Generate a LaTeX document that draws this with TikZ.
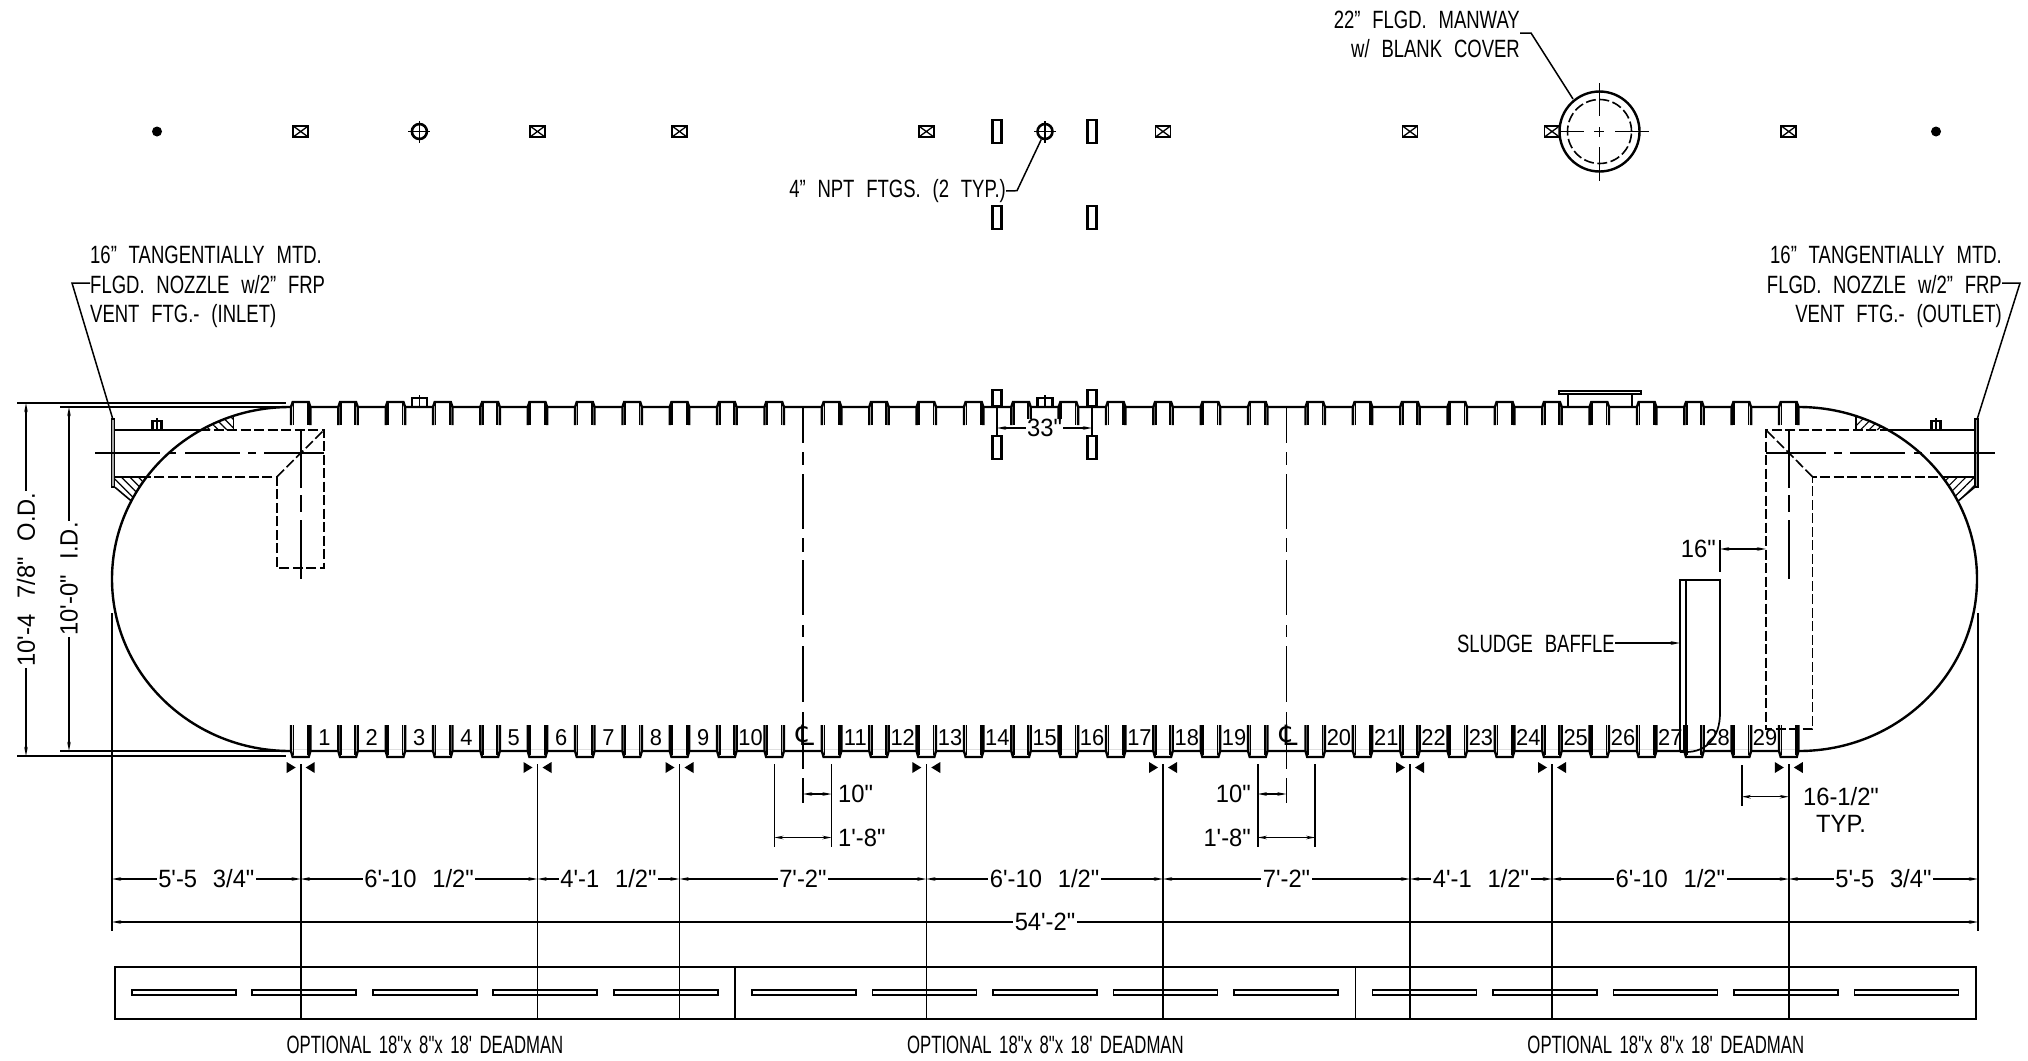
\documentclass[tikz,border=0pt]{standalone}
\usepackage{fontspec}
\setmainfont[FakeStretch=0.74,WordSpace=2.3]{Liberation Sans}
\newfontfamily\dimfont[FakeStretch=0.95,WordSpace=2.4]{Liberation Sans}
\newfontfamily\narrowfont[FakeStretch=0.67,WordSpace=1.6]{Liberation Sans}
\newfontfamily\clfont{DejaVu Sans}
\usetikzlibrary{arrows.meta,patterns.meta}

\tikzset{
  shell/.style={line width=2.4pt},
  ribline/.style={line width=1.7pt},
  thinline/.style={line width=1.6pt},
  hidden/.style={line width=1.6pt,dash pattern=on 10pt off 3.5pt},
  dimline/.style={line width=1.4pt,{Stealth[length=9pt,width=3.5pt]}-{Stealth[length=9pt,width=3.5pt]}},
  leaderline/.style={line width=1.5pt},
  notetext/.style={font=\fontsize{25}{29.5}\selectfont,inner sep=0pt},
  dimtext/.style={font=\dimfont\fontsize{25}{27}\selectfont,inner sep=0pt},
  dimlabel/.style={dimtext,fill=white,inner xsep=1.5pt,inner ysep=0pt},
  numtext/.style={font=\dimfont\fontsize{23}{25}\selectfont,inner sep=0pt},
  deadtext/.style={font=\narrowfont\fontsize{25}{28}\selectfont,inner sep=0pt},
  crossbox/.style={draw,rectangle,line width=1.7pt,minimum width=15pt,minimum height=11pt,inner sep=0pt,
    path picture={\draw[line width=1.3pt] (path picture bounding box.north west) -- (path picture bounding box.south east)
      (path picture bounding box.south west) -- (path picture bounding box.north east);}},
  ftgrect/.style={draw,rectangle,line width=2.2pt,minimum width=9pt,inner sep=0pt},
}

\begin{document}
\begin{tikzpicture}[x=1pt,y=-1pt]
  \useasboundingbox (0,0) rectangle (2028,1060);

  % fittings plan
  \node[circle,fill,inner sep=0pt,minimum size=10pt] (dotl) at (157,131.5) {};
  \node[circle,fill,inner sep=0pt,minimum size=10pt] (dotr) at (1936,131.5) {};
  \foreach \x in {300.7,537.5,679.5,926.3,1163,1410,1552,1788.8}
    \node[crossbox] (box\x) at (\x,131.5) {};
  \foreach \nm/\x in {a/419.4,b/1045} {
    \node[circle,draw,line width=2.6pt,minimum size=15pt,inner sep=0pt] (ftg\nm) at (\x,131.5) {};
    \draw[line width=1.6pt] ([xshift=-11pt]ftg\nm.center) -- ([xshift=11pt]ftg\nm.center);
    \draw[line width=1.6pt] ([yshift=-11pt]ftg\nm.center) -- ([yshift=11pt]ftg\nm.center);
  }
  \foreach \nm/\x/\y in {a/997/131.5,b/1092/131.5,c/997/217.5,d/1092/217.5}
    \node[ftgrect,minimum height=23pt] (rect\nm) at (\x,\y) {};

  % manway
  \node[circle,draw,shell,minimum size=80pt,inner sep=0pt] (manway) at (1599.5,131.5) {};
  \node[circle,draw,hidden,minimum size=64pt,inner sep=0pt] (manwayin) at (1599.5,131.5) {};
  \coordinate (mwl) at (1560,131.5);
  \coordinate (mwr) at (1649,131.5);
  \coordinate (mwt) at (1599.5,83);
  \coordinate (mwb) at (1599.5,181);
  \draw[thinline,dash pattern=on 24pt off 10pt on 10pt off 11pt on 34pt] (mwl) -- (mwr);
  \draw[thinline,dash pattern=on 33pt off 11pt on 10pt off 10pt on 34pt] (mwt) -- (mwb);

  \node[notetext,align=right,anchor=east] (manwaynote) at (1520,34.5) {22" FLGD. MANWAY\\w/ BLANK COVER};
  \coordinate (mwk) at (1531,33);
  \coordinate (mwe) at (1573,99);
  \draw[leaderline] (manwaynote.east |- mwk) -- (mwk) -- (mwe);

  \node[notetext,anchor=east] (ftgnote) at (1006,191) {4" NPT FTGS. (2 TYP.)};
  \coordinate (ftgk) at (1017,190.7);
  \draw[leaderline] (ftgnote.east) -- (ftgk) -- (ftgb);

  % nozzle notes
  \node[notetext,align=left,anchor=west] (inletnote) at (90,287) {16" TANGENTIALLY MTD.\\FLGD. NOZZLE w/2" FRP\\VENT FTG.- (INLET)};
  \node[notetext,align=right,anchor=east] (outletnote) at (2002,287) {16" TANGENTIALLY MTD.\\FLGD. NOZZLE w/2" FRP\\VENT FTG.- (OUTLET)};
  \coordinate (inletk) at (72,283);
  \coordinate (inlete) at (112.5,418);
  \coordinate (outletk) at (2020,283);
  \coordinate (outlete) at (1977.5,418);
  \draw[leaderline] (inletnote.west |- inletk) -- (inletk) -- (inlete);
  \draw[leaderline] (outletnote.east |- outletk) -- (outletk) -- (outlete);

  % tank shell
  \draw[shell] (290,407) -- (1799,407) arc[start angle=90,end angle=-90,x radius=178pt,y radius=172pt]
    -- (290,751) arc[start angle=270,end angle=90,x radius=178pt,y radius=172pt];

  \foreach \start/\last in {300.7/10,831.6/9,1315.2/10} {
    \foreach \i in {0,...,\last} {
      \pgfmathsetmacro\rx{\start+47.35*\i}
      \fill[white] (\rx-9.7,401) rectangle (\rx+9.7,408.5);
      \fill[white] (\rx-9.7,749.5) rectangle (\rx+9.7,758);
      \draw[shell] (\rx-9.7,425) -- (\rx-9.7,407) -- (\rx-8,402) -- (\rx+8,402) -- (\rx+9.7,407) -- (\rx+9.7,425);
      \draw[ribline] (\rx-7.2,403) -- (\rx-7.2,425) (\rx+7.2,403) -- (\rx+7.2,425);
      \draw[shell] (\rx-9.7,725) -- (\rx-9.7,751) -- (\rx-8,757) -- (\rx+8,757) -- (\rx+9.7,751) -- (\rx+9.7,725);
      \draw[ribline] (\rx-7.2,725) -- (\rx-7.2,755) (\rx+7.2,725) -- (\rx+7.2,755);
    }
  }

  \foreach \start/\first/\last in {324.4/1/10,855.3/11/19,1338.9/20/29} {
    \foreach \n in {\first,...,\last} {
      \pgfmathsetmacro\nx{\start+47.35*(\n-\first)}
      \node[numtext] (rib\n) at (\nx,737.5) {\n};
    }
  }

  % openings on top of shell
  \foreach \nm/\x in {c/419.4,d/1045} {
    \draw[shell] (\x-7.5,407) -- (\x-7.5,398) -- (\x+7.5,398) -- (\x+7.5,407);
    \draw[ribline] (\x,395) -- (\x,407);
  }
  \draw[shell] (1559,390.7) rectangle (1640.7,394);
  \draw[shell] (1568,394) -- (1568,407) (1632,394) -- (1632,407);
  \foreach \nm/\x/\y in {e/997/398,f/1092/398,g/997/447.5,h/1092/447.5} {
    \pgfmathsetmacro\hh{\y<420 ? 16 : 23}
    \node[ftgrect,minimum height=\hh pt,fill=white] (rect\nm) at (\x,\y) {};
  }

  % inlet nozzle
  \fill[pattern={Lines[angle=-45,distance=6pt,line width=1.2pt]}] (233.3,416) -- (233.3,430) -- (200,430) -- cycle;
  \fill[pattern={Lines[angle=-45,distance=6pt,line width=1.2pt]}] (115,476.7) -- (146,476.7) -- (131,500.7) -- (115,487.3) -- cycle;
  \draw[thinline] (233.3,416) -- (233.3,430);
  \draw[thinline] (115,487.3) -- (131,500.7);
  \draw[line width=1.2pt,fill=gray!70] (111.5,419) rectangle (114.5,487);
  \draw[shell] (114.5,430) -- (200,430);
  \draw[shell] (114.5,476.7) -- (146,476.7);
  \draw[hidden] (200,430) -- (324,430) -- (324,568) -- (277,568) -- (277,476.7) -- (146,476.7);
  \draw[hidden] (277,476.7) -- (324,430);
  \draw[thinline,dash pattern=on 65pt off 8pt on 8pt off 9pt on 55pt off 8pt on 8pt off 8pt on 67pt] (95,452.7) -- (324,452.7);
  \draw[thinline,dash pattern=on 58pt off 7pt on 17pt off 8pt on 60pt] (300.7,430) -- (300.7,579);
  \draw[shell] (152.5,430) -- (152.5,421) -- (161.5,421) -- (161.5,430);
  \draw[ribline] (157,418) -- (157,430);

  % outlet nozzle
  \fill[pattern={Lines[angle=45,distance=6pt,line width=1.2pt]}] (1856.2,416) -- (1856.2,430) -- (1889.5,430) -- cycle;
  \fill[pattern={Lines[angle=45,distance=6pt,line width=1.2pt]}] (1974.5,476.7) -- (1943.5,476.7) -- (1958.5,500.7) -- (1974.5,487.3) -- cycle;
  \draw[thinline] (1856.2,416) -- (1856.2,430);
  \draw[thinline] (1974.5,487.3) -- (1958.5,500.7);
  \draw[line width=1.2pt,fill=gray!70] (1975,419) rectangle (1978,487);
  \draw[shell] (1975,430) -- (1889.5,430);
  \draw[shell] (1975,476.7) -- (1943.5,476.7);
  \draw[hidden] (1889.5,430) -- (1766,430) -- (1766,729) -- (1812.5,729) -- (1812.5,476.7) -- (1943.5,476.7);
  \draw[hidden] (1812.5,476.7) -- (1766,430);
  \draw[thinline,dash pattern=on 65pt off 8pt on 8pt off 9pt on 55pt off 8pt on 8pt off 8pt on 67pt] (1994.5,452.7) -- (1766,452.7);
  \draw[thinline,dash pattern=on 58pt off 7pt on 17pt off 8pt on 60pt] (1788.8,430) -- (1788.8,579);
  \draw[shell] (1931.5,430) -- (1931.5,421) -- (1940.5,421) -- (1940.5,430);
  \draw[ribline] (1936,418) -- (1936,430);

  % sludge baffle
  \draw[ribline] (1680,752) -- (1680,580) -- (1720,580) -- (1720,713)
    .. controls (1720,738) and (1706,752) .. (1686,752) -- (1680,752);
  \draw[ribline] (1686,580) -- (1686,752);
  \node[notetext,anchor=east] (bafflenote) at (1615,644) {SLUDGE BAFFLE};
  \coordinate (bafflee) at (1680,643);
  \draw[thinline,-{Stealth[length=9pt,width=3.5pt]}] (bafflenote.east |- bafflee) -- (bafflee);

  \node[dimtext,anchor=east] (bafflegap) at (1716,549) {16"};
  \coordinate (gapa) at (1720,549);
  \coordinate (gapb) at (1766,549);
  \draw[thinline] (1720,540) -- (1720,572);
  \draw[dimline] (gapa) -- (gapb);

  % centre lines
  \foreach \nm/\x in {a/803,b/1286.5} {
    \coordinate (cl\nm bot) at (\x,803);
    \coordinate (cl\nm top) at (\x,407);
    \draw[thinline,dash pattern=on 36pt off 9pt on 13pt off 9pt on 55pt off 9pt on 14pt off 8pt on 55pt off 10pt on 12pt off 9pt on 56pt off 10pt on 57pt off 9pt on 25pt off 9pt] (cl\nm top) -- (cl\nm bot);
    \node[dimtext,font=\clfont\fontsize{28}{29}\selectfont] (clmark\nm) at (\x+2,735) {℄};
  }

  % 20 in. rib pair dimensions
  \coordinate (pa1) at (774.3,837.5);
  \coordinate (pa2) at (831.6,837.5);
  \coordinate (pa3) at (803,794);
  \coordinate (pa4) at (831.6,794);
  \draw[thinline] (774.3,764) -- (774.3,847) (831.6,764) -- (831.6,847);
  \draw[dimline] (pa3) -- (pa4);
  \draw[dimline] (pa1) -- (pa2);
  \node[dimtext,anchor=west] (pa10) at (838,794) {10"};
  \node[dimtext,anchor=west] (pa18) at (838,837.5) {1'-8"};
  \coordinate (pb1) at (1315.2,837.5);
  \coordinate (pb2) at (1257.8,837.5);
  \coordinate (pb3) at (1286.5,794);
  \coordinate (pb4) at (1257.8,794);
  \draw[thinline] (1315.2,764) -- (1315.2,847) (1257.8,764) -- (1257.8,847);
  \draw[dimline] (pb3) -- (pb4);
  \draw[dimline] (pb1) -- (pb2);
  \node[dimtext,anchor=east] (pb10) at (1251,794) {10"};
  \node[dimtext,anchor=east] (pb18) at (1251,837.5) {1'-8"};

  % 33 in. dimension
  \coordinate (ta) at (997,428);
  \coordinate (tb) at (1092,428);
  \draw[thinline] (997,407) -- (997,435) (1092,407) -- (1092,435);
  \draw[dimline] (ta) -- node[dimlabel] (thirty) {33"} (tb);

  % diameters
  \coordinate (oda) at (26,403);
  \coordinate (odb) at (26,756);
  \coordinate (ida) at (69,407);
  \coordinate (idb) at (69,751);
  \draw[thinline] (17,403) -- (286,403) (17,756) -- (286,756);
  \draw[thinline] (60,407) -- (286,407) (60,751) -- (286,751);
  \draw[dimline] (oda) -- node[dimlabel,rotate=90] (odtext) {10'-4 7/8" O.D.} (odb);
  \draw[dimline] (ida) -- node[dimlabel,rotate=90] (idtext) {10'-0" I.D.} (idb);

  % rib references and lengths
  \coordinate (d0) at (112,879);
  \coordinate (d9) at (1978,879);
  \coordinate (l0) at (112,922);
  \coordinate (l1) at (1978,922);
  \draw[thinline] (112,613) -- (112,931);
  \draw[thinline] (1978,613) -- (1978,931);
  \foreach \n/\rx in {1/300.7,2/537.5,3/679.5,4/926.3,5/1163,6/1410,7/1552,8/1788.8} {
    \coordinate (d\n) at (\rx,879);
    \coordinate (dt\n) at (\rx,764);
    \coordinate (db\n) at (\rx,1019);
    \draw[thinline] (dt\n) -- (db\n);
    \fill (\rx-14,762) -- (\rx-5,767.5) -- (\rx-14,773) -- cycle;
    \fill (\rx+14,762) -- (\rx+5,767.5) -- (\rx+14,773) -- cycle;
  }
  \foreach \a/\b/\lab in {0/1/{5'-5 3/4"},1/2/{6'-10 1/2"},2/3/{4'-1 1/2"},3/4/{7'-2"},4/5/{6'-10 1/2"},5/6/{7'-2"},6/7/{4'-1 1/2"},7/8/{6'-10 1/2"},8/9/{5'-5 3/4"}}
    \draw[dimline] (d\a) -- node[dimlabel] (dtext\a) {\lab} (d\b);
  \draw[dimline] (l0) -- node[dimlabel] (ltext) {54'-2"} (l1);

  \coordinate (ta1) at (1741.7,796.7);
  \coordinate (ta2) at (1788.8,796.7);
  \draw[thinline] (1741.7,765) -- (1741.7,806);
  \draw[dimline] (ta1) -- (ta2);
  \node[dimtext,align=center] (typtext) at (1841,810) {16-1/2"\\TYP.};

  % deadman
  \draw[ribline] (114.7,966.7) rectangle (1975.9,1019);
  \draw[ribline] (735.1,966.7) -- (735.1,1019) (1355.5,966.7) -- (1355.5,1019);
  \foreach \nm/\px in {a/0,b/620.4,c/1240.8} {
    \foreach \s in {0,...,4}
      \draw[ribline] (131.7+\px+120.5*\s,990.3) rectangle ++(104,5);
    \node[deadtext] (deadman\nm) at (425+\px,1045) {OPTIONAL 18"x 8"x 18' DEADMAN};
  }
\end{tikzpicture}
\end{document}
